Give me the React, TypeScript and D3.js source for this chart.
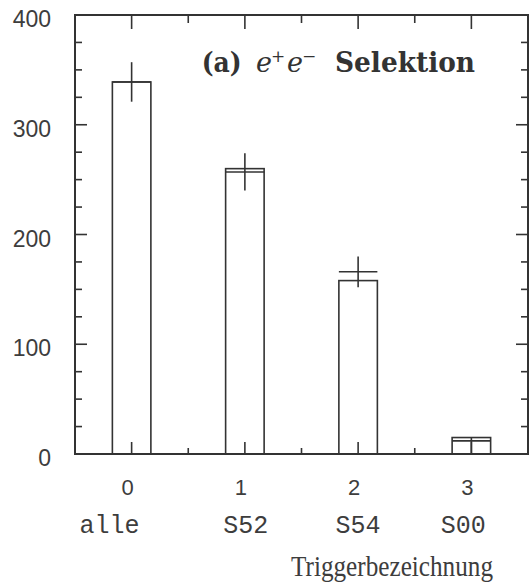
import React from 'react';
import * as d3 from 'd3';

// ---- data ----
const categories = [0, 1, 2, 3];
const triggerNames = ['alle', 'S52', 'S54', 'S00'];
const histValues = [339, 260, 158, 15];
const dataValues = [339, 257, 166, 12];
const errLow = [18, 17, 14, 12];
const errHigh = [18, 17, 14, 3];
const yTickValues = [0, 100, 200, 300, 400];
const xTickValues = [0, 1, 2, 3];

// ---- layout ----
const W = 530;
const H = 588;
const X0 = 75;
const X1 = 528;
const Y0 = 454;
const Y1 = 15;
const BAR_HALF = 0.17;
const nameDx = [-22, 1, 0, -8];
const INK = '#333';
const TXT = '#3d3d3d';

export default function App() {
  const x = d3.scaleLinear().domain([-0.5, 3.5]).range([X0, X1]);
  const y = d3.scaleLinear().domain([0, 400]).range([Y0, Y1]);

  const yMinor = d3.range(25, 400, 25);
  const xMinor = d3.range(0, 3.01, 0.5);

  return (
    <svg
      width={W}
      height={H}
      viewBox={`0 0 ${W} ${H}`}
      style={{ position: 'absolute', left: 0, top: 0, background: '#fff' }}
    >
      {/* frame */}
      <rect
        x={x(-0.5)}
        y={y(400)}
        width={x(3.5) - x(-0.5)}
        height={y(0) - y(400)}
        fill="none"
        stroke={INK}
        strokeWidth={2}
      />

      {/* y ticks left & right */}
      {yMinor.map((v) => {
        const major = v % 100 === 0;
        const len = major ? 12 : 7;
        return (
          <g key={'yt' + v} stroke={INK} strokeWidth={1.6}>
            <line x1={x(-0.5)} x2={x(-0.5) + len} y1={y(v)} y2={y(v)} />
            <line x1={x(3.5)} x2={x(3.5) - len} y1={y(v)} y2={y(v)} />
          </g>
        );
      })}

      {/* x ticks top & bottom */}
      {xMinor.map((v) => {
        const major = Math.abs(v - Math.round(v)) < 1e-6;
        const lenTop = major ? 14 : 8;
        const lenBot = major ? 12 : 6;
        return (
          <g key={'xt' + v} stroke={INK} strokeWidth={1.6}>
            <line x1={x(v)} x2={x(v)} y1={y(400)} y2={y(400) + lenTop} />
            <line x1={x(v)} x2={x(v)} y1={y(0)} y2={y(0) - lenBot} />
          </g>
        );
      })}

      {/* y tick labels */}
      {yTickValues.map((v) => (
        <text
          key={'yl' + v}
          x={51}
          y={y(v) + 12}
          textAnchor="end"
          fontFamily="'Liberation Sans', Arial, sans-serif"
          fontSize={23}
          fill={TXT}
        >
          {v}
        </text>
      ))}

      {/* x tick labels */}
      {xTickValues.map((v) => (
        <text
          key={'xl' + v}
          x={x(v) - 4}
          y={y(0) + 41}
          textAnchor="middle"
          fontFamily="'Liberation Sans', Arial, sans-serif"
          fontSize={22}
          fill={TXT}
        >
          {v}
        </text>
      ))}

      {/* trigger names */}
      {categories.map((c, i) => (
        <text
          key={'tn' + c}
          x={x(c) + nameDx[i]}
          y={y(0) + 79}
          textAnchor="middle"
          fontFamily="'Liberation Mono', 'Courier New', monospace"
          fontSize={25}
          fill={TXT}
        >
          {triggerNames[i]}
        </text>
      ))}

      {/* histogram bars */}
      {categories.map((c, i) => (
        <rect
          key={'bar' + c}
          x={x(c - BAR_HALF)}
          y={y(histValues[i])}
          width={x(c + BAR_HALF) - x(c - BAR_HALF)}
          height={y(0) - y(histValues[i])}
          fill="none"
          stroke={INK}
          strokeWidth={1.6}
        />
      ))}

      {/* data points with error bars */}
      {categories.map((c, i) => (
        <g key={'pt' + c} stroke={INK} strokeWidth={1.6}>
          <line
            x1={x(c - BAR_HALF)}
            x2={x(c + BAR_HALF)}
            y1={y(dataValues[i])}
            y2={y(dataValues[i])}
          />
          <line
            x1={x(c)}
            x2={x(c)}
            y1={y(dataValues[i] + errHigh[i])}
            y2={y(dataValues[i] - errLow[i])}
          />
        </g>
      ))}

      {/* title */}
      <g fill={INK}>
        <text
          x={201.7}
          y={72}
          fontFamily="'DejaVu Serif', serif"
          fontWeight="bold"
          fontSize={27}
          textLength={40}
          lengthAdjust="spacingAndGlyphs"
        >
          (a)
        </text>
        <text x={256} y={72} fontFamily="'DejaVu Serif', serif" fontStyle="italic" fontSize={27}>
          e
        </text>
        <text x={271} y={62} fontFamily="'DejaVu Serif', serif" fontSize={17}>
          +
        </text>
        <text x={287} y={72} fontFamily="'DejaVu Serif', serif" fontStyle="italic" fontSize={27}>
          e
        </text>
        <text x={302} y={62} fontFamily="'DejaVu Serif', serif" fontSize={17}>
          −
        </text>
        <text
          x={335}
          y={72}
          fontFamily="'DejaVu Serif', serif"
          fontWeight="bold"
          fontSize={27}
          textLength={140}
          lengthAdjust="spacingAndGlyphs"
        >
          Selektion
        </text>
      </g>

      {/* axis title */}
      <text
        x={291}
        y={576}
        fontFamily="'Liberation Serif', 'Times New Roman', serif"
        fontSize={30}
        textLength={202}
        lengthAdjust="spacingAndGlyphs"
        fill={TXT}
      >
        Triggerbezeichnung
      </text>
    </svg>
  );
}
